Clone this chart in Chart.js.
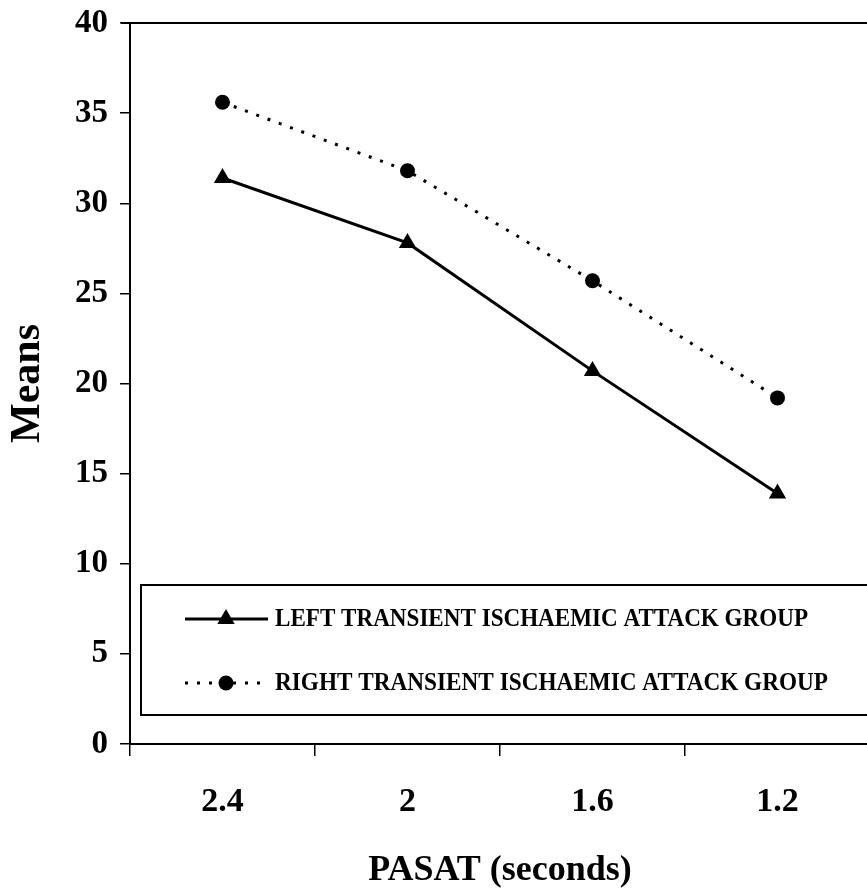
<!DOCTYPE html>
<html>
<head>
<meta charset="utf-8">
<script src="https://cdn.jsdelivr.net/npm/chart.js@4/dist/chart.umd.min.js"></script>
<style>
html, body { margin: 0; padding: 0; background: #fff; overflow: hidden; }
#wrap { width: 880px; height: 896px; }
</style>
</head>
<body>
<div id="wrap"><canvas id="chart" width="880" height="896"></canvas></div>
<script>
// values
const categories = ["2.4", "2", "1.6", "1.2"];
const leftGroup = [31.4, 27.8, 20.7, 13.9];
const rightGroup = [35.6, 31.8, 25.7, 19.2];
const seriesNames = ["LEFT TRANSIENT ISCHAEMIC ATTACK GROUP", "RIGHT TRANSIENT ISCHAEMIC ATTACK GROUP"];
const yTicks = [0, 5, 10, 15, 20, 25, 30, 35, 40];

const serif = '"Liberation Serif", "Times New Roman", serif';

function marker(ctx, style, r, x, y) {
    ctx.beginPath();
    if (style === 'triangle') {
        ctx.moveTo(x, y - r);
        ctx.lineTo(x + r * 0.87, y + r * 0.5);
        ctx.lineTo(x - r * 0.87, y + r * 0.5);
        ctx.closePath();
    } else {
        ctx.arc(x, y, r, 0, Math.PI * 2);
    }
    ctx.fill();
}

// boxed legend drawn inside the plot, like the original
const boxLegend = {
    id: 'boxLegend',
    afterDraw(chart) {
        const ctx = chart.ctx;
        ctx.save();
        ctx.strokeStyle = '#000';
        ctx.fillStyle = '#000';
        ctx.lineWidth = 2;
        ctx.strokeRect(141, 585, 740, 130);
        const widths = [533, 553];
        chart.data.datasets.forEach((ds, i) => {
            const y = 619 + i * 64;
            ctx.beginPath();
            ctx.lineWidth = ds.borderWidth;
            ctx.setLineDash(ds.borderDash || []);
            ctx.moveTo(185, y);
            ctx.lineTo(268, y);
            ctx.stroke();
            ctx.setLineDash([]);
            marker(ctx, ds.pointStyle, ds.pointRadius, 226, y);
            ctx.font = 'bold 25px ' + serif;
            ctx.textBaseline = 'middle';
            ctx.fillText(seriesNames[i], 275, y + 1, widths[i]);
        });
        ctx.restore();
    }
};

// top frame line
const topFrame = {
    id: 'topFrame',
    afterDraw(chart) {
        const {left, right, top} = chart.chartArea;
        const ctx = chart.ctx;
        ctx.save();
        ctx.strokeStyle = '#000';
        ctx.lineWidth = 2;
        ctx.beginPath();
        ctx.moveTo(left - 9, top);
        ctx.lineTo(right, top);
        ctx.stroke();
        ctx.restore();
    }
};

new Chart(document.getElementById('chart'), {
    type: 'line',
    data: {
        labels: categories,
        datasets: [{
            label: seriesNames[0],
            data: leftGroup,
            borderColor: '#000',
            backgroundColor: '#000',
            borderWidth: 3,
            pointStyle: 'triangle',
            pointRadius: 10,
            pointBackgroundColor: '#000',
            pointBorderWidth: 0,
            tension: 0
        }, {
            label: seriesNames[1],
            data: rightGroup,
            borderColor: '#000',
            backgroundColor: '#000',
            borderWidth: 3,
            borderDash: [3, 9],
            pointStyle: 'circle',
            pointRadius: 7.5,
            pointBackgroundColor: '#000',
            pointBorderWidth: 0,
            tension: 0
        }]
    },
    options: {
        responsive: false,
        animation: false,
        layout: {padding: {top: 23, right: 8, left: 0, bottom: 0}},
        plugins: {
            legend: {display: false},
            tooltip: {enabled: false}
        },
        scales: {
            x: {
                offset: true,
                grid: {
                    offset: true,
                    drawOnChartArea: false,
                    color: '#000',
                    tickLength: 12,
                    lineWidth: 1.5
                },
                border: {color: '#000', width: 2},
                ticks: {
                    color: '#000',
                    padding: 26,
                    maxRotation: 0,
                    font: {family: serif, size: 34, weight: 'bold'}
                },
                title: {
                    display: true,
                    text: 'PASAT (seconds)',
                    color: '#000',
                    padding: {top: 0, bottom: 4},
                    font: {family: serif, size: 36, weight: 'bold'}
                },
                afterFit(scale) { scale.height = 152; }
            },
            y: {
                min: 0,
                max: 40,
                afterBuildTicks(scale) { scale.ticks = yTicks.map(v => ({value: v})); },
                grid: {
                    drawOnChartArea: false,
                    color: '#000',
                    tickLength: 10,
                    lineWidth: 1.5
                },
                border: {color: '#000', width: 2},
                ticks: {
                    color: '#000',
                    padding: 12,
                    font: {family: serif, size: 33, weight: 'bold', lineHeight: 0.6}
                },
                title: {
                    display: true,
                    text: 'Means',
                    color: '#000',
                    padding: {top: 3, bottom: 0},
                    font: {family: serif, size: 42, weight: 'bold'}
                },
                afterFit(scale) { scale.width = 130; }
            }
        }
    },
    plugins: [boxLegend, topFrame]
});
</script>
</body>
</html>
